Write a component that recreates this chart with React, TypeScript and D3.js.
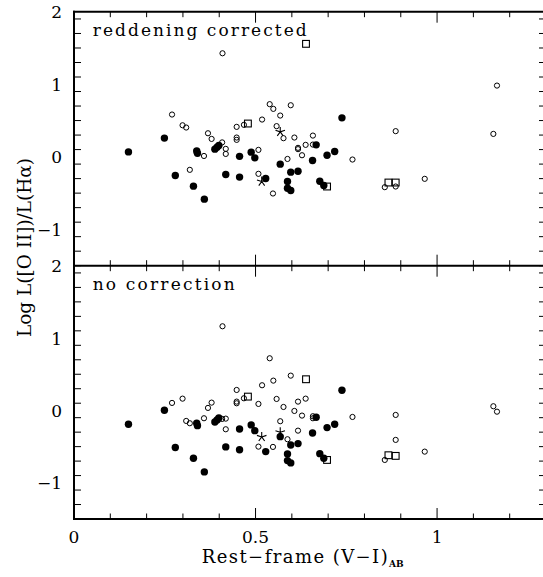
import React from "react";
import * as d3 from "d3";

// ---- data (x = rest-frame V-I colour, y = log L([OII])/L(Halpha)) ----
const filledX = [0.150, 0.249, 0.279, 0.329, 0.338, 0.340, 0.359, 0.388, 0.394, 0.399, 0.418, 0.456, 0.456, 0.488, 0.498, 0.528, 0.568, 0.588, 0.588, 0.597, 0.597, 0.617, 0.657, 0.667, 0.677, 0.688, 0.697, 0.718, 0.738];
const filledTop = [0.068, 0.258, -0.258, -0.404, 0.081, 0.050, -0.583, 0.106, 0.133, 0.156, -0.244, 0.007, -0.279, 0.065, -0.014, -0.299, -0.101, -0.340, -0.432, -0.464, -0.211, -0.198, -0.051, 0.165, -0.336, -0.395, 0.022, 0.073, 0.537];
const filledBottom = [-0.191, 0.003, -0.513, -0.661, -0.177, -0.210, -0.849, -0.159, -0.131, -0.104, -0.504, -0.256, -0.543, -0.200, -0.279, -0.569, -0.362, -0.601, -0.693, -0.725, -0.477, -0.458, -0.311, -0.094, -0.597, -0.660, -0.237, -0.191, 0.279];

const openX = [0.270, 0.299, 0.309, 0.319, 0.358, 0.369, 0.379, 0.408, 0.409, 0.418, 0.418, 0.448, 0.448, 0.448, 0.468, 0.508, 0.508, 0.518, 0.539, 0.548, 0.549, 0.558, 0.568, 0.577, 0.588, 0.597, 0.607, 0.617, 0.617, 0.628, 0.638, 0.658, 0.658, 0.767, 0.856, 0.886, 0.886, 0.966, 1.155, 1.165];
const openTop = [0.583, 0.435, 0.404, -0.179, 0.012, 0.325, 0.247, 0.199, 1.427, 0.110, 0.040, 0.413, 0.266, 0.234, 0.441, 0.096, -0.234, 0.514, 0.726, -0.505, 0.661, 0.423, 0.569, 0.257, -0.029, 0.711, 0.266, 0.124, 0.106, 0.022, 0.165, 0.293, 0.169, -0.037, -0.418, -0.409, 0.354, -0.303, 0.316, 0.982];
const openBottom = [0.104, 0.163, -0.145, -0.177, -0.108, 0.035, 0.108, -0.117, 1.163, -0.113, -0.260, 0.283, 0.122, 0.099, 0.168, 0.090, -0.500, 0.348, 0.721, -0.504, 0.412, 0.159, -0.149, 0.048, -0.398, 0.481, -0.007, 0.122, -0.279, -0.071, 0.163, -0.080, -0.108, -0.090, -0.684, -0.407, -0.062, -0.569, 0.058, -0.017];

const squareX = [0.479, 0.639, 0.697, 0.866, 0.886];
const squareTop = [0.459, 1.557, -0.409, -0.354, -0.354];
const squareBottom = [0.191, 0.431, -0.684, -0.619, -0.628];

const starX = [0.517, 0.568];
const starTop = [-0.340, 0.344];
const starBottom = [-0.366, -0.301];

const xTickValues = [0, 0.5, 1];
const xTickLabels = ["0", "0.5", "1"];
const yTickValues = [2, 1, 0, -1];
const yTickLabels = ["2", "1", "0", "\u22121"];
const panelLabels = ["reddening corrected", "no correction"];

const FONT = "'DejaVu Serif', serif";

const x = d3.scaleLinear().domain([0, 1.3]).range([74, 546]);
const yTop = d3.scaleLinear().domain([-1.5, 2]).range([265.7, 11.7]);
const yBot = d3.scaleLinear().domain([-1.5, 2]).range([519, 265.7]);

function starPath(cx: number, cy: number, r: number) {
  let d = "";
  for (let i = 0; i < 5; i++) {
    const a = -Math.PI / 2 + (i * 2 * Math.PI) / 5;
    d += `M${cx},${cy}L${cx + r * Math.cos(a)},${cy + r * Math.sin(a)}`;
  }
  return d;
}

function Panel({ y, yVals, label }: { y: d3.ScaleLinear<number, number>; yVals: number[][]; label: string }) {
  const [fY, oY, sY, stY] = yVals;
  const [y0, y1] = y.range(); // bottom, top
  const xMinor = d3.range(0, 131).filter((i) => i % 10 === 0).map((i) => i / 100);
  const yMinor = d3.range(-15, 21, 2).map((i) => i / 10);
  const x0 = x.range()[0];
  const x1 = x.range()[1];
  return (
    <g>
      {/* y ticks left & right */}
      {yMinor.map((v, i) => {
        const major = Math.abs(v - Math.round(v)) < 1e-6;
        const len = major ? 13 : 7;
        const py = y(v);
        if (py > y0 + 0.1 || py < y1 - 0.1) return null;
        return (
          <g key={"y" + i}>
            <line x1={x0} x2={x0 + len} y1={py} y2={py} stroke="#000" strokeWidth={1} />
            <line x1={x1} x2={x1 - len} y1={py} y2={py} stroke="#000" strokeWidth={1} />
          </g>
        );
      })}
      {/* x ticks bottom & top */}
      {xMinor.map((v, i) => {
        const major = xTickValues.some((t) => Math.abs(t - v) < 1e-6);
        const len = major ? 11 : 5.5;
        const px = x(v);
        return (
          <g key={"x" + i}>
            <line x1={px} x2={px} y1={y0} y2={y0 - len} stroke="#000" strokeWidth={1} />
            <line x1={px} x2={px} y1={y1} y2={y1 + len} stroke="#000" strokeWidth={1} />
          </g>
        );
      })}
      {/* y tick labels */}
      {yTickValues.map((v, i) => (
        <text key={"yl" + i} x={62} y={y(v) + 6.5} textAnchor="end" fontFamily={FONT} fontSize={17} fill="#000">
          {yTickLabels[i]}
        </text>
      ))}
      <text
        x={92.7}
        y={y1 + 23.8}
        fontFamily={FONT}
        fontSize={17}
        textLength={label.length > 15 ? 214 : 142}
        lengthAdjust="spacing"
        fill="#000"
      >
        {label}
      </text>
      {/* data */}
      {filledX.map((v, i) => (
        <circle key={"f" + i} cx={x(v)} cy={y(fY[i])} r={3.7} fill="#000" />
      ))}
      {openX.map((v, i) => (
        <circle key={"o" + i} cx={x(v)} cy={y(oY[i])} r={2.6} fill="none" stroke="#000" strokeWidth={1} />
      ))}
      {squareX.map((v, i) => (
        <rect key={"s" + i} x={x(v) - 3.4} y={y(sY[i]) - 3.4} width={6.8} height={6.8} fill="none" stroke="#000" strokeWidth={1.1} />
      ))}
      {starX.map((v, i) => (
        <path key={"st" + i} d={starPath(x(v), y(stY[i]), 5)} stroke="#000" strokeWidth={1.1} fill="none" />
      ))}
    </g>
  );
}

export default function App() {
  return (
    <svg
      width={543}
      height={577}
      viewBox="0 0 543 577"
      style={{ position: "absolute", left: 0, top: 0, background: "#fff" }}
    >
      <rect x={0} y={0} width={543} height={577} fill="#fff" />
      <Panel y={yTop} yVals={[filledTop, openTop, squareTop, starTop]} label={panelLabels[0]} />
      <Panel y={yBot} yVals={[filledBottom, openBottom, squareBottom, starBottom]} label={panelLabels[1]} />
      {/* frame */}
      <line x1={74} x2={74} y1={10.7} y2={520} stroke="#000" strokeWidth={2} />
      <line x1={546} x2={546} y1={10.7} y2={520} stroke="#000" strokeWidth={2} />
      <line x1={73} x2={547} y1={11.7} y2={11.7} stroke="#000" strokeWidth={2} />
      <line x1={73} x2={547} y1={265.7} y2={265.7} stroke="#000" strokeWidth={2} />
      <line x1={73} x2={547} y1={519} y2={519} stroke="#000" strokeWidth={2} />
      {/* x tick labels */}
      {xTickValues.map((v, i) => (
        <text key={"xl" + i} x={x(v)} y={543} textAnchor="middle" fontFamily={FONT} fontSize={17} fill="#000">
          {xTickLabels[i]}
        </text>
      ))}
      {/* x axis label */}
      <text x={201.7} y={563} fontFamily={FONT} fontSize={18} textLength={186} lengthAdjust="spacing" fill="#000">
        Rest{"\u2212"}frame (V{"\u2212"}I)
      </text>
      <text x={389} y={567} fontFamily={FONT} fontSize={9} fontWeight="bold" fill="#000">
        AB
      </text>
      {/* y axis label */}
      <text
        transform="translate(30.5,247.5) rotate(-90)"
        textAnchor="middle"
        fontFamily={FONT}
        fontSize={19}
        textLength={179}
        lengthAdjust="spacingAndGlyphs"
        fill="#000"
      >
        Log L([O II])/L(H{"\u03b1"})
      </text>
    </svg>
  );
}
